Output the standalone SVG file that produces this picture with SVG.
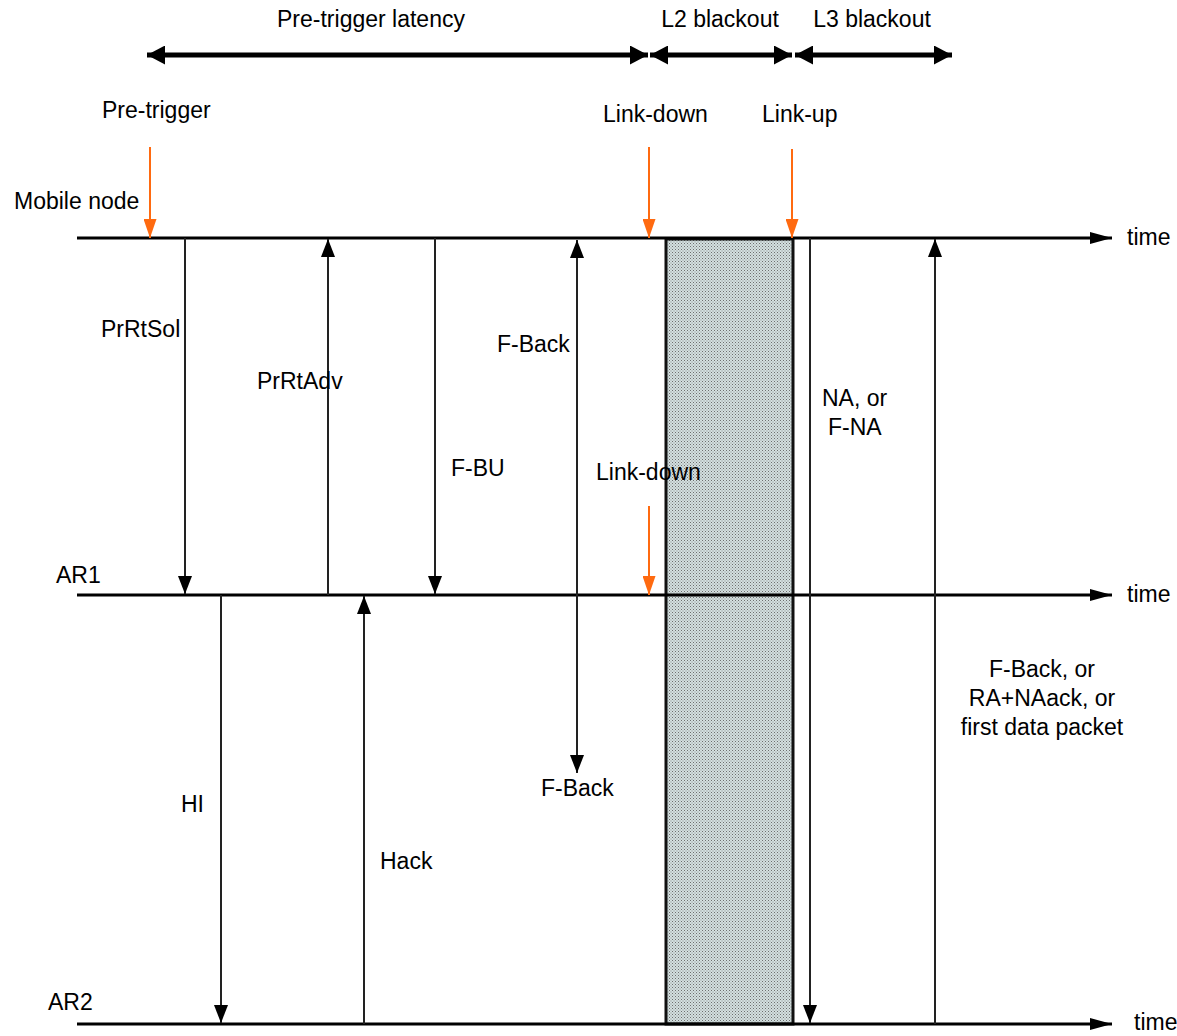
<svg xmlns="http://www.w3.org/2000/svg" width="1177" height="1036" viewBox="0 0 1177 1036">
<style>
text{font-family:"Liberation Sans",Arial,sans-serif;font-size:23px;fill:#000}
.tl{stroke:#000;stroke-width:3;fill:none}
.msg{stroke:#222;stroke-width:2;fill:none}
.dim{stroke:#000;stroke-width:5;fill:none}
.trg{stroke:#ff6a10;stroke-width:2;fill:none}
</style>
<defs>
<marker id="ah" markerUnits="userSpaceOnUse" markerWidth="18" markerHeight="14" refX="18" refY="7" viewBox="0 0 18 14" orient="auto"><path d="M0,0 L18,7 L0,14 Z" fill="#000"/></marker>
<marker id="ahs" markerUnits="userSpaceOnUse" markerWidth="18" markerHeight="14" refX="0" refY="7" viewBox="0 0 18 14" orient="auto"><path d="M18,0 L0,7 L18,14 Z" fill="#000"/></marker>
<marker id="ta" markerUnits="userSpaceOnUse" markerWidth="22" markerHeight="12" refX="22" refY="6" viewBox="0 0 22 12" orient="auto"><path d="M0,0 L22,6 L0,12 Z" fill="#000"/></marker>
<marker id="da" markerUnits="userSpaceOnUse" markerWidth="18" markerHeight="19" refX="18" refY="9.5" viewBox="0 0 18 19" orient="auto"><path d="M0,0 L18,9.5 L0,19 Z" fill="#000"/></marker>
<marker id="das" markerUnits="userSpaceOnUse" markerWidth="18" markerHeight="19" refX="0" refY="9.5" viewBox="0 0 18 19" orient="auto"><path d="M18,0 L0,9.5 L18,19 Z" fill="#000"/></marker>
<marker id="oa" markerUnits="userSpaceOnUse" markerWidth="19" markerHeight="13" refX="19" refY="6.5" viewBox="0 0 19 13" orient="auto"><path d="M0,0 L19,6.5 L0,13 Z" fill="#ff6a10"/></marker>
<pattern id="dots" width="3" height="3" patternUnits="userSpaceOnUse"><rect width="3" height="3" fill="#d3e0e0"/><rect width="1" height="1" fill="#6e6e6e"/><rect x="1.5" y="1.5" width="1" height="1" fill="#8a8a8a"/></pattern>
</defs>

<g id="blackout">
<rect x="666" y="239" width="127" height="785" fill="url(#dots)" stroke="#111" stroke-width="3"/>
</g>

<g id="timelines">
<line class="tl" x1="77" y1="238" x2="1112" y2="238" marker-end="url(#ta)"/>
<line class="tl" x1="77" y1="595" x2="1112" y2="595" marker-end="url(#ta)"/>
<line class="tl" x1="77" y1="1024" x2="1112" y2="1024" marker-end="url(#ta)"/>
</g>

<g id="dimensions">
<line class="dim" x1="147" y1="55" x2="648" y2="55" marker-start="url(#das)" marker-end="url(#da)"/>
<line class="dim" x1="650" y1="55" x2="792" y2="55" marker-start="url(#das)" marker-end="url(#da)"/>
<line class="dim" x1="795" y1="55" x2="952" y2="55" marker-start="url(#das)" marker-end="url(#da)"/>
</g>

<g id="triggers">
<line class="trg" x1="150" y1="147" x2="150" y2="238" marker-end="url(#oa)"/>
<line class="trg" x1="649" y1="147" x2="649" y2="238" marker-end="url(#oa)"/>
<line class="trg" x1="792" y1="149" x2="792" y2="238" marker-end="url(#oa)"/>
<line class="trg" x1="649" y1="506" x2="649" y2="595" marker-end="url(#oa)"/>
</g>

<g id="connectors">
<line class="msg" x1="185" y1="238" x2="185" y2="594" marker-end="url(#ah)"/>
<line class="msg" x1="328" y1="595" x2="328" y2="239" marker-end="url(#ah)"/>
<line class="msg" x1="435" y1="238" x2="435" y2="594" marker-end="url(#ah)"/>
<line class="msg" x1="577" y1="240" x2="577" y2="773" marker-start="url(#ahs)" marker-end="url(#ah)"/>
<line class="msg" x1="221" y1="595" x2="221" y2="1023" marker-end="url(#ah)"/>
<line class="msg" x1="364" y1="1024" x2="364" y2="596" marker-end="url(#ah)"/>
<line class="msg" x1="810" y1="238" x2="810" y2="1023" marker-end="url(#ah)"/>
<line class="msg" x1="935" y1="1024" x2="935" y2="239" marker-end="url(#ah)"/>
</g>

<g id="labels">
<text x="371" y="27" text-anchor="middle">Pre-trigger latency</text>
<text x="720" y="27" text-anchor="middle">L2 blackout</text>
<text x="872" y="27" text-anchor="middle">L3 blackout</text>
<text x="102" y="118">Pre-trigger</text>
<text x="603" y="122">Link-down</text>
<text x="762" y="122">Link-up</text>
<text x="14" y="209">Mobile node</text>
<text x="56" y="583">AR1</text>
<text x="48" y="1010">AR2</text>
<text x="1127" y="245">time</text>
<text x="1127" y="602">time</text>
<text x="1134" y="1030">time</text>
<text x="101" y="337">PrRtSol</text>
<text x="257" y="389">PrRtAdv</text>
<text x="497" y="352">F-Back</text>
<text x="451" y="476">F-BU</text>
<text x="596" y="480">Link-down</text>
<text x="822" y="406">NA, or</text>
<text x="828" y="435">F-NA</text>
<text x="1042" y="677" text-anchor="middle">F-Back, or</text>
<text x="1042" y="706" text-anchor="middle">RA+NAack, or</text>
<text x="1042" y="735" text-anchor="middle">first data packet</text>
<text x="541" y="796">F-Back</text>
<text x="181" y="812">HI</text>
<text x="380" y="869">Hack</text>
</g>
</svg>
